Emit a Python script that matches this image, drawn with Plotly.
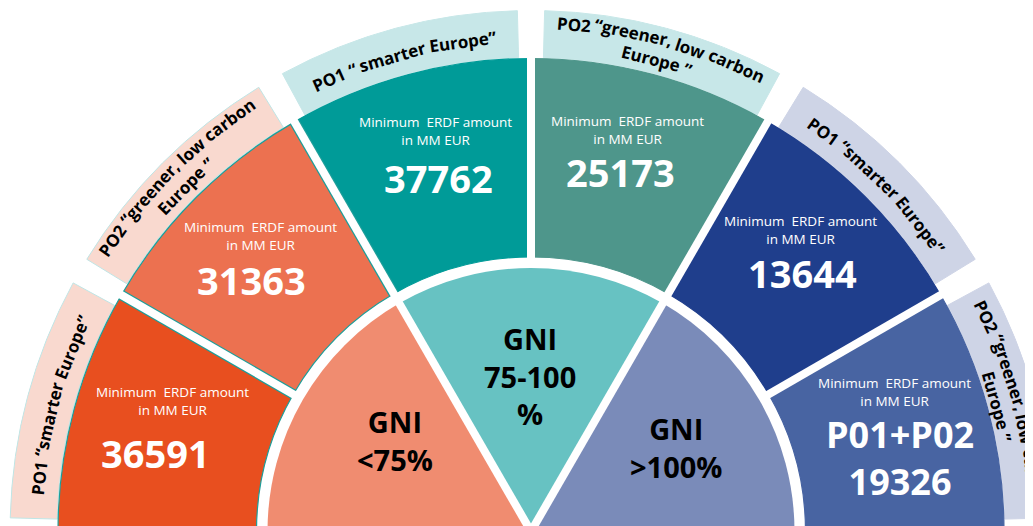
import math
import plotly.graph_objects as go

W, H = 1033, 526

# ---------------- data ----------------
gni_groups = ["GNI <75%", "GNI 75-100 %", "GNI >100%"]
gni_labels = ["GNI<br>&lt;75%", "GNI<br>75-100<br>%", "GNI<br>&gt;100%"]
objective_labels = [
    ["PO1 “smarter Europe”"],
    ["PO2 “greener, low carbon", "Europe ”"],
    ["PO1 “ smarter Europe”"],
    ["PO2 “greener, low carbon", "Europe ”"],
    ["PO1 “smarter Europe”"],
    ["PO2 “greener, low carbon", "Europe ”"],
]
amounts = [36591, 31363, 37762, 25173, 13644, 19326]
amount_titles = ["", "", "", "", "", "P01+P02"]
sub_label = "Minimum  ERDF amount<br>in MM EUR"

# ---------------- styles / layout ----------------
PAGE_OFF = 8                 # the page body offsets the plot by 8 px
CX, CY = 531 - PAGE_OFF, 531.5 - PAGE_OFF   # centre of the half-disc, plot pixels
R_INNER = 263.5
R_BOX0, R_BOX1 = 274.5, 473
R_BAND0, R_BAND1 = 474, 521
BAND_WIDTH_DEG = 27

inner_colors = ["#F08C70", "#67C2C2", "#7A8BB9"]
box_colors = ["#E84F1F", "#EC7150", "#009B98", "#4E968B", "#1F3E8C", "#4864A2"]
box_line_colors = ["#1C9E9A", "#1C9E9A", "#009B98", "#4E968B", "#1F3E8C", "#4864A2"]
band_colors = ["#F9D9CF", "#F9D9CF", "#C7E7E8", "#C7E7E8", "#CED4E6", "#CED4E6"]
band_line_colors = ["#BFE5E5", "#BFE5E5", "#C7E7E8", "#C7E7E8", "#CED4E6", "#CED4E6"]

FONT = "Open Sans"
# label positions in page pixels
sub_pos = [(172, 401), (260, 236), (435, 131), (627, 130), (800, 230), (894, 392)]
val_pos = [(155, 453), (251, 280), (438, 178), (620, 172), (802, 273), (900, 458)]
val_size = [38, 38, 38, 38, 38, 36]
gni_pos = [(395, 440), (530, 376), (676, 447)]
band_r_shift = [0, 1, 0, 0, 0, -5]

n_out = len(amounts)
n_in = len(gni_groups)
step_out = 180 / n_out
step_in = 180 / n_in
outer_theta = [180 - step_out * (i + 0.5) for i in range(n_out)]
inner_theta = [180 - step_in * (i + 0.5) for i in range(n_in)]


def sector_bbox(s0, s1):
    angs = [s0, s1] + [a for a in (0, 90, 180, 270) if s0 <= a <= s1]
    xs = [math.cos(math.radians(a)) for a in angs] + [0.0]
    ys = [math.sin(math.radians(a)) for a in angs] + [0.0]
    return min(xs), min(ys), max(xs), max(ys)


def polar_layout(sector, R):
    x0, y0, x1, y1 = sector_bbox(*sector)
    left, right = CX + R * x0, CX + R * x1
    top, bottom = CY - R * y1, CY - R * y0
    return dict(
        domain=dict(x=[max(0, left / W), min(1, right / W)],
                    y=[max(0, 1 - bottom / H), min(1, 1 - top / H)]),
        sector=list(sector),
        bgcolor="rgba(0,0,0,0)",
        radialaxis=dict(visible=False, range=[0, R]),
        angularaxis=dict(visible=False),
    )


fig = go.Figure()

# ----- outer label bands (split in subplots so the right edge is not clipped)
band_subplots = {"polar": ((30, 180), 522), "polar2": ((13, 30), 522), "polar3": ((0, 13.5), 510)}
for sp in band_subplots:
    fig.add_trace(go.Barpolar(
        r=[R_BAND1 - R_BAND0] * n_out, base=R_BAND0, theta=outer_theta, width=BAND_WIDTH_DEG,
        marker=dict(color=band_colors, line=dict(color=band_line_colors, width=1)),
        subplot=sp, hoverinfo="skip", showlegend=False))

# ----- main subplot: inner GNI ring + ERDF boxes
fig.add_trace(go.Barpolar(
    r=[R_INNER] * n_in, theta=inner_theta, width=step_in,
    marker=dict(color=inner_colors, line=dict(width=0)),
    subplot="polar4", hoverinfo="skip", showlegend=False))
fig.add_trace(go.Barpolar(
    r=[R_BOX1 - R_BOX0] * n_out, base=R_BOX0, theta=outer_theta, width=step_out,
    marker=dict(color=box_colors, line=dict(color=box_line_colors, width=1.2)),
    subplot="polar4", hoverinfo="skip", showlegend=False))

# white separators between boxes (teal rim on the orange boxes)
for k in range(1, n_out):
    th = 180 - step_out * k
    if k <= 2:
        fig.add_trace(go.Scatterpolar(r=[R_BOX0, R_BOX1], theta=[th, th], mode="lines",
                                      line=dict(color="#1C9E9A", width=10.5),
                                      subplot="polar4", hoverinfo="skip", showlegend=False))
    fig.add_trace(go.Scatterpolar(r=[R_BOX0 - 3, R_BOX1 + 3], theta=[th, th], mode="lines",
                                  line=dict(color="white", width=8),
                                  subplot="polar4", hoverinfo="skip", showlegend=False))
# white separators in the GNI ring
for k in range(1, n_in):
    th = 180 - step_in * k
    fig.add_trace(go.Scatterpolar(r=[0, R_INNER + 3], theta=[th, th], mode="lines",
                                  line=dict(color="white", width=8),
                                  subplot="polar4", hoverinfo="skip", showlegend=False))

# ---------------- annotations ----------------
ann = []


def page2paper(x, y):
    return (x - PAGE_OFF) / W, 1 - (y - PAGE_OFF) / H


def plot2paper(x, y):
    return x / W, 1 - y / H


for i in range(n_out):
    x, y = page2paper(*sub_pos[i])
    ann.append(dict(x=x, y=y, text=sub_label, font=dict(family=FONT, size=13.5, color="white")))
    txt = str(amounts[i]) if not amount_titles[i] else amount_titles[i] + "<br>" + str(amounts[i])
    x, y = page2paper(*val_pos[i])
    ann.append(dict(x=x, y=y, text=txt,
                    font=dict(family=FONT, size=val_size[i], color="white", weight="bold")))

for i in range(n_in):
    x, y = page2paper(*gni_pos[i])
    ann.append(dict(x=x, y=y, text=gni_labels[i],
                    font=dict(family=FONT, size=29, color="black", weight="bold")))

# curved band labels: each word tangent to the arc
CHAR_EM = {' ': 0.26, 'P': 0.66, 'O': 0.78, '1': 0.57, '2': 0.57, '“': 0.47, '”': 0.47, ',': 0.28,
           'a': 0.60, 'b': 0.64, 'c': 0.51, 'e': 0.59, 'g': 0.57, 'l': 0.30, 'm': 0.97, 'n': 0.65,
           'o': 0.62, 'p': 0.64, 'r': 0.45, 's': 0.50, 't': 0.43, 'u': 0.65, 'w': 0.86, 'E': 0.56}
BAND_FS = 17
R_SINGLE = 495
R_DOUBLE = [509, 488]


def text_w(s, fs):
    return sum(CHAR_EM.get(ch, 0.6) for ch in s) * fs


for i, lines in enumerate(objective_labels):
    radii = [R_SINGLE] if len(lines) == 1 else R_DOUBLE
    for line, r0 in zip(lines, radii):
        r = r0 + band_r_shift[i]
        total = text_w(line, BAND_FS)
        pos = 0.0
        for wd in line.split(" "):
            w = text_w(wd, BAND_FS)
            mid = pos + w / 2 - total / 2
            th = outer_theta[i] - math.degrees(mid / r)
            xp = CX + r * math.cos(math.radians(th))
            yp = CY - r * math.sin(math.radians(th))
            x, y = plot2paper(xp, yp)
            ann.append(dict(x=x, y=y, text=wd, textangle=90 - th,
                            font=dict(family=FONT, size=BAND_FS, color="black", weight="bold")))
            pos += w + text_w(" ", BAND_FS)

for a in ann:
    a.update(xref="paper", yref="paper", showarrow=False, xanchor="center", yanchor="middle")

layout_polars = {
    "polar": polar_layout(*band_subplots["polar"]),
    "polar2": polar_layout(*band_subplots["polar2"]),
    "polar3": polar_layout(*band_subplots["polar3"]),
    "polar4": polar_layout((0, 180), 478),
}

fig.update_layout(
    width=W, height=H,
    margin=dict(l=0, r=0, t=0, b=0),
    paper_bgcolor="white", plot_bgcolor="white",
    showlegend=False, hovermode=False,
    annotations=ann,
    **layout_polars,
)

fig.write_html("out.html")
